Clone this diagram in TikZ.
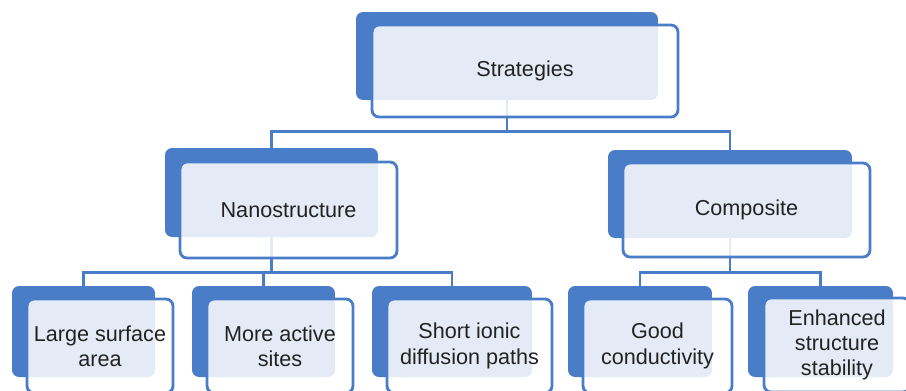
\documentclass[tikz,border=0pt]{standalone}
\usepackage{fontspec}
\setmainfont{Liberation Sans}
\usepackage{xcolor}
\usetikzlibrary{positioning}

\definecolor{smblue}{HTML}{4A7DC8}
\definecolor{txtgray}{HTML}{222222}

\begin{document}
\begin{tikzpicture}[
  x=0.02cm, y=-0.02cm,
  backbox/.style={
    rectangle,
    fill=smblue,
    rounded corners=4pt,
    inner sep=0pt
  },
  frontbox/.style={
    rectangle,
    draw=smblue,
    line width=1.6pt,
    fill=white,
    fill opacity=0.85,
    text opacity=1,
    rounded corners=4pt,
    inner sep=0pt,
    text=txtgray,
    font=\fontsize{12.3}{14.4}\selectfont,
    align=center
  },
  link/.style={
    draw=smblue,
    line width=1.4pt
  }
]
\clip (0,0) rectangle (906,390);

% Back boxes
\node[backbox, minimum width=6.04cm, minimum height=1.76cm] (stratB) at (507,56) {};
\node[backbox, minimum width=4.26cm, minimum height=1.78cm] (nanoB) at (271.5,192.5) {};
\node[backbox, minimum width=4.88cm, minimum height=1.76cm] (compB) at (730,194) {};
\node[backbox, minimum width=2.86cm, minimum height=1.82cm] (largeB) at (83.5,331.5) {};
\node[backbox, minimum width=2.86cm, minimum height=1.82cm] (activeB) at (263.5,331.5) {};
\node[backbox, minimum width=3.2cm, minimum height=1.82cm] (shortB) at (452,331.5) {};
\node[backbox, minimum width=2.88cm, minimum height=1.82cm] (goodB) at (640,331.5) {};
\node[backbox, minimum width=2.9cm, minimum height=1.82cm] (enhB) at (820.5,331.5) {};

% Connectors
\draw[link] (stratB.south) -- ++(0,31) -| (nanoB.north);
\draw[link] (stratB.south) -- ++(0,31) -| (compB.north);

\draw[link] (nanoB.south) -- ++(0,35) -| (largeB.north);
\draw[link] (nanoB.south) -- ++(0,35) -| (activeB.north);
\draw[link] (nanoB.south) -- ++(0,35) -| (shortB.north);

\draw[link] (compB.south) -- ++(0,34) -| (goodB.north);
\draw[link] (compB.south) -- ++(0,34) -| (enhB.north);

% Front boxes
\node[frontbox, minimum width=6.12cm, minimum height=1.84cm] (strat) at (525,71) {Strategies};
\node[frontbox, minimum width=4.34cm, minimum height=1.92cm] (nano) at (288.5,210) {Nanostructure};
\node[frontbox, minimum width=4.94cm, minimum height=1.88cm] (comp) at (746.5,210) {Composite};
\node[frontbox, minimum width=2.92cm, minimum height=1.88cm] (large) at (100,346) {Large surface\\area};
\node[frontbox, minimum width=2.92cm, minimum height=1.88cm] (active) at (280,346) {More active\\sites};
\node[frontbox, minimum width=3.3cm, minimum height=1.88cm] (short) at (469.5,346) {Short ionic\\diffusion paths};
\node[frontbox, minimum width=2.98cm, minimum height=1.88cm] (good) at (657.5,346) {Good\\conductivity};
\node[frontbox, minimum width=2.92cm, minimum height=1.88cm] (enh) at (837,345) {Enhanced\\structure\\stability};

\end{tikzpicture}
\end{document}
